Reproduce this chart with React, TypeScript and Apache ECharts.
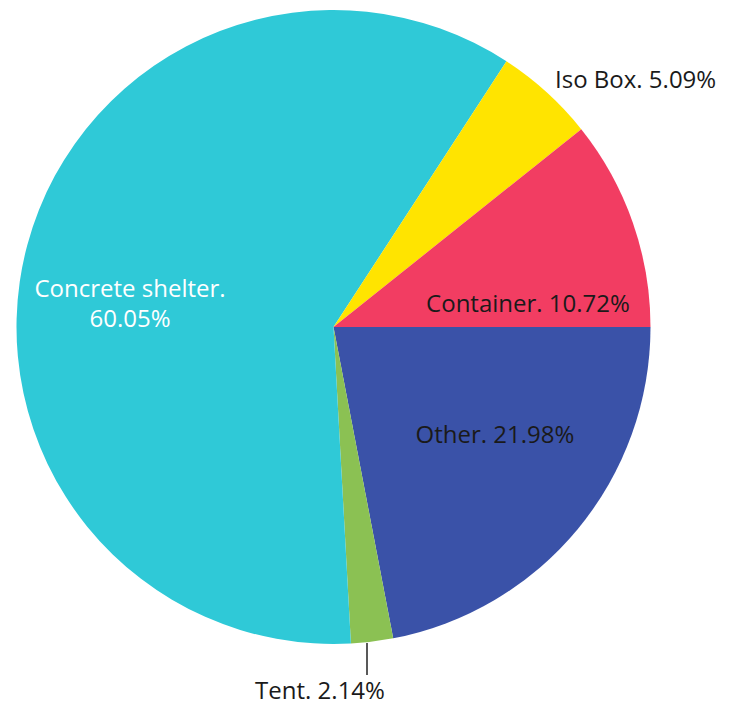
import React, { useEffect, useRef } from "react";
import * as echarts from "echarts";

const names = ["Other", "Tent", "Concrete shelter", "Iso Box", "Container"];
const values = [21.98, 2.14, 60.05, 5.09, 10.72];
const colors = ["#3A52A8", "#8BC153", "#2FC9D7", "#FFE400", "#F23D62"];
const labelText = [
  "Other. 21.98%",
  "Tent. 2.14%",
  "Concrete shelter.\n60.05%",
  "Iso Box. 5.09%",
  "Container. 10.72%",
];

// label placement (layout, not data)
const labelPos: Record<number, { x: number; y: number; align: string }> = {
  0: { x: 495, y: 433, align: "center" },
  1: { x: 320, y: 689, align: "center" },
  2: { x: 130, y: 302, align: "center" },
  3: { x: 555, y: 78, align: "left" },
  4: { x: 528, y: 302, align: "center" },
};

export default function App() {
  const ref = useRef<HTMLDivElement>(null);
  useEffect(() => {
    document.body.style.margin = "0";
    const chart = echarts.init(ref.current!, null, { renderer: "svg" });
    chart.setOption({
      animation: false,
      backgroundColor: "#ffffff",
      series: [
        {
          type: "pie",
          center: [333.5, 327],
          radius: 317,
          startAngle: 0,
          clockwise: true,
          avoidLabelOverlap: false,
          minShowLabelAngle: 0,
          itemStyle: { borderWidth: 0 },
          label: {
            position: "inside",
            fontFamily: "Open Sans",
            fontSize: 24,
            lineHeight: 24,
            color: "#1a1a1a",
          },
          labelLine: { show: false },
          labelLayout: (p: any) => {
            const lp = labelPos[p.dataIndex];
            const res: any = { x: lp.x, y: lp.y, align: lp.align, verticalAlign: "middle" };
            if (p.dataIndex === 1) {
              res.labelLinePoints = [
                [367, 643],
                [367, 675],
                [367, 675],
              ];
            }
            return res;
          },
          data: names.map((n, i) => ({
            name: n,
            value: values[i],
            itemStyle: { color: colors[i] },
            label: {
              formatter: labelText[i],
              position: i === 1 || i === 3 ? "outside" : "inside",
              color: i === 2 ? "#ffffff" : "#1a1a1a",
              lineHeight: i === 2 ? 30 : 24,
            },
            labelLine:
              i === 1
                ? { show: true, length: 30, length2: 0, lineStyle: { color: "#222", width: 1.5 } }
                : { show: false },
          })),
        },
      ],
    });
    return () => chart.dispose();
  }, []);
  return <div ref={ref} style={{ width: 739, height: 706 }} />;
}
